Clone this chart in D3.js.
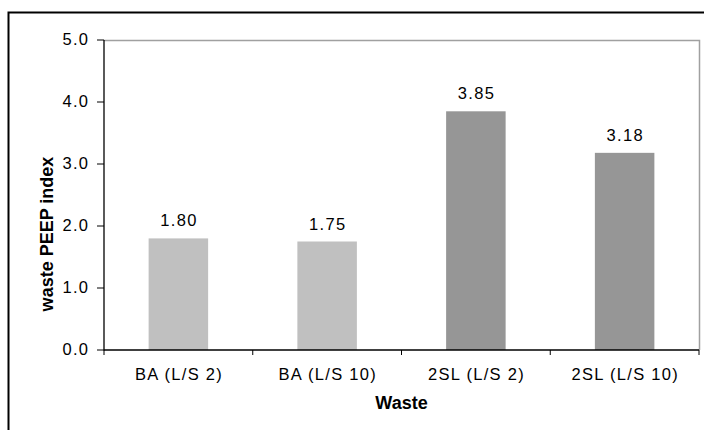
<!DOCTYPE html>
<html><head><meta charset="utf-8">
<script src="https://cdn.jsdelivr.net/npm/d3@7"></script>
<style>body{margin:0;background:#fff}svg{display:block}text{font-family:"Liberation Sans",Arial,sans-serif;fill:#000}</style>
</head><body><svg width="704" height="430"></svg>
<script>
const categories = ["BA (L/S 2)", "BA (L/S 10)", "2SL (L/S 2)", "2SL (L/S 10)"];
const values = [1.80, 1.75, 3.85, 3.18];
const barColors = ["#c0c0c0", "#c0c0c0", "#969696", "#969696"];
const yTicks = [0, 1, 2, 3, 4, 5];

const svg = d3.select("svg");
const L = 104, R = 699, T = 40, B = 350;
const FS = 16.5, LS = 1.3;

svg.append("rect").attr("x", 8.5).attr("y", 12.5).attr("width", 710).attr("height", 430)
  .attr("fill", "none").attr("stroke", "#000").attr("stroke-width", 2);

const x = d3.scaleBand().domain(categories).range([L, R]).paddingInner(0.6).paddingOuter(0.3);
const xb = d3.scaleBand().domain(categories).range([L, R]);
const y = d3.scaleLinear().domain([0, 5]).range([B, T]);

// plot border (gray top/right)
svg.append("path").attr("d", `M${L},${T+0.5}H${R+0.5}V${B}`).attr("fill", "none").attr("stroke", "#a0a0a0").attr("stroke-width", 1.5);

svg.selectAll("rect.bar").data(values).enter().append("rect").attr("class", "bar")
  .attr("x", (d, i) => x(categories[i])).attr("width", x.bandwidth())
  .attr("y", d => y(d)).attr("height", d => B - y(d))
  .attr("fill", (d, i) => barColors[i]);

svg.selectAll("text.lab").data(values).enter().append("text").attr("class", "lab")
  .attr("x", (d, i) => x(categories[i]) + x.bandwidth() / 2 + LS / 2).attr("y", d => y(d) - 12)
  .attr("text-anchor", "middle").attr("font-size", FS).attr("letter-spacing", LS).text(d => d.toFixed(2));

// y axis
const ya = svg.append("g");
ya.append("line").attr("x1", L).attr("x2", L).attr("y1", T).attr("y2", B + 0.5).attr("stroke", "#000").attr("stroke-width", 1.3);
ya.selectAll("line.tk").data(yTicks).enter().append("line").attr("class", "tk")
  .attr("x1", L - 7).attr("x2", L).attr("y1", d => y(d)).attr("y2", d => y(d)).attr("stroke", "#000");
ya.selectAll("text").data(yTicks).enter().append("text")
  .attr("x", L - 16 + LS).attr("y", d => y(d) + 5).attr("text-anchor", "end")
  .attr("font-size", FS).attr("letter-spacing", LS).text(d => d3.format(".1f")(d));

// x axis
const xa = svg.append("g").attr("transform", `translate(0,${B})`);
xa.append("line").attr("x1", L).attr("x2", R).attr("y1", 0).attr("y2", 0).attr("stroke", "#000").attr("stroke-width", 1.3);
const edges = categories.map(c => xb(c)).concat([R]);
xa.selectAll("line.tk").data(edges).enter().append("line").attr("class", "tk")
  .attr("x1", d => d).attr("x2", d => d).attr("y1", 0).attr("y2", 5).attr("stroke", "#000");
xa.selectAll("text").data(categories).enter().append("text")
  .attr("x", d => xb(d) + xb.bandwidth() / 2 + LS / 2).attr("y", 30)
  .attr("text-anchor", "middle").attr("font-size", FS).attr("letter-spacing", LS).text(d => d);

svg.append("text").attr("x", (L + R) / 2).attr("y", 409).attr("text-anchor", "middle")
  .attr("font-size", 18).attr("font-weight", "bold").text("Waste");
svg.append("text").attr("transform", `translate(53,234) rotate(-90)`).attr("text-anchor", "middle")
  .attr("font-size", 18).attr("font-weight", "bold").text("waste PEEP index");
</script></body></html>
